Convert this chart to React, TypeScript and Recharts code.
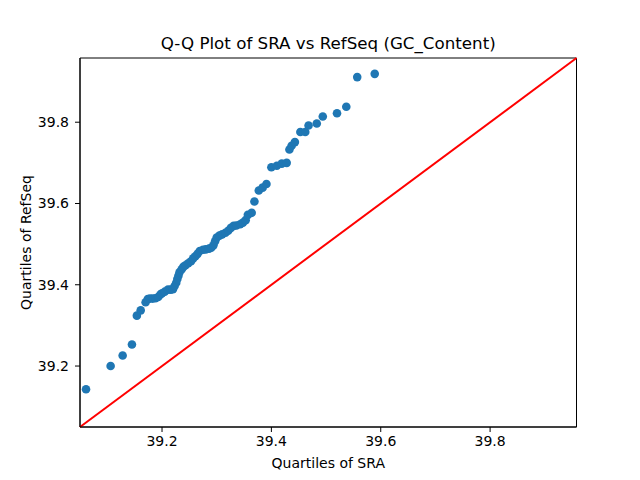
import React from 'react';
import {
  ScatterChart,
  Scatter,
  XAxis,
  YAxis,
  ReferenceLine,
  ReferenceArea,
  Label,
} from 'recharts';

const TITLE = 'Q-Q Plot of SRA vs RefSeq (GC_Content)';
const X_LABEL = 'Quartiles of SRA';
const Y_LABEL = 'Quartiles of RefSeq';

const sraQuantiles: number[] = [
  39.061, 39.106, 39.128, 39.145, 39.154, 39.161, 39.17, 39.174, 39.178, 39.183,
  39.188, 39.193, 39.197, 39.2, 39.205, 39.211, 39.216, 39.22, 39.223, 39.226,
  39.228, 39.23, 39.232, 39.236, 39.239, 39.243, 39.248, 39.253, 39.257, 39.261,
  39.265, 39.269, 39.275, 39.28, 39.286, 39.29, 39.294, 39.297, 39.3, 39.305,
  39.31, 39.316, 39.321, 39.326, 39.331, 39.336, 39.343, 39.348, 39.353, 39.357,
  39.364, 39.369, 39.377, 39.384, 39.391, 39.4, 39.41, 39.419, 39.428, 39.433,
  39.437, 39.443, 39.453, 39.462, 39.468, 39.483, 39.494, 39.52, 39.537, 39.557,
  39.589,
];

const refseqQuantiles: number[] = [
  39.143, 39.2, 39.226, 39.253, 39.324, 39.337, 39.357, 39.365, 39.366, 39.366,
  39.367, 39.37, 39.376, 39.379, 39.383, 39.388, 39.388, 39.389, 39.397, 39.405,
  39.414, 39.422, 39.431, 39.438, 39.444, 39.448, 39.453, 39.458, 39.465, 39.47,
  39.476, 39.483, 39.486, 39.487, 39.489, 39.491, 39.497, 39.507, 39.516, 39.521,
  39.524, 39.528, 39.533, 39.54, 39.545, 39.546, 39.549, 39.553, 39.559, 39.572,
  39.577, 39.605, 39.632, 39.639, 39.648, 39.689, 39.693, 39.698, 39.7, 39.733,
  39.742, 39.751, 39.776, 39.776, 39.792, 39.797, 39.814, 39.822, 39.838, 39.911,
  39.919,
];

const xTicks: number[] = [39.2, 39.4, 39.6, 39.8];
const yTicks: number[] = [39.2, 39.4, 39.6, 39.8];
const axisDomain: [number, number] = [39.05, 39.958];

const points = sraQuantiles.map((x, i) => ({ x, y: refseqQuantiles[i] }));

const Dot = (props: any) => {
  const { cx, cy } = props;
  if (cx == null || cy == null) return null;
  return <circle cx={cx} cy={cy} r={4.3} fill="#1f77b4" />;
};

const fmt = (v: number) => v.toFixed(1);

export default function App() {
  return (
    <div
      style={{
        position: 'absolute',
        left: 0,
        top: 0,
        width: 640,
        height: 480,
        background: '#fff',
        fontFamily: '"DejaVu Sans", sans-serif',
      }}
    >
      <ScatterChart
        width={640}
        height={480}
        margin={{ top: 58, right: 63.5, left: 20, bottom: 0 }}
      >
        <XAxis
          type="number"
          dataKey="x"
          domain={axisDomain}
          ticks={xTicks}
          tickFormatter={fmt}
          allowDataOverflow
          height={53}
          tickSize={5}
          tickMargin={4}
          stroke="#000"
          tick={{ fill: '#000', fontSize: 14 }}
          axisLine={{ stroke: '#000' }}
          tickLine={{ stroke: '#000' }}
        >
          <Label
            value={X_LABEL}
            position="insideBottom"
            offset={12}
            style={{ fill: '#000', fontSize: 14 }}
          />
        </XAxis>
        <YAxis
          type="number"
          dataKey="y"
          domain={axisDomain}
          ticks={yTicks}
          tickFormatter={fmt}
          allowDataOverflow
          width={60}
          tickSize={5}
          tickMargin={6}
          stroke="#000"
          tick={{ fill: '#000', fontSize: 14 }}
          axisLine={{ stroke: '#000' }}
          tickLine={{ stroke: '#000' }}
        >
          <Label
            value={Y_LABEL}
            angle={-90}
            position="insideLeft"
            offset={6}
            style={{ fill: '#000', fontSize: 14, textAnchor: 'middle' }}
          />
        </YAxis>
        <ReferenceArea
          x1={axisDomain[0]}
          x2={axisDomain[1]}
          y1={axisDomain[0]}
          y2={axisDomain[1]}
          fill="none"
          fillOpacity={0}
          stroke="#000"
          strokeWidth={1}
          ifOverflow="visible"
        >
          <Label
            value={TITLE}
            position="top"
            offset={9}
            style={{ fill: '#000', fontSize: 16.7 }}
          />
        </ReferenceArea>
        <Scatter
          data={points}
          shape={<Dot />}
          isAnimationActive={false}
        />
        <ReferenceLine
          segment={[
            { x: axisDomain[0], y: axisDomain[0] },
            { x: axisDomain[1], y: axisDomain[1] },
          ]}
          stroke="red"
          strokeWidth={2}
          ifOverflow="visible"
        />
      </ScatterChart>
    </div>
  );
}
